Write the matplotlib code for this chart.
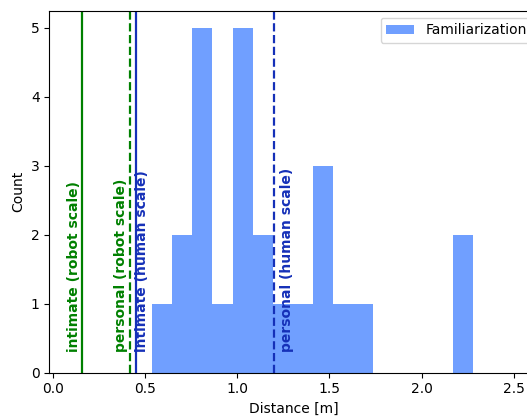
import numpy as np
import matplotlib
matplotlib.use("Agg")
import matplotlib.pyplot as plt

# histogram of distances (bin edges + counts)
bin_lo, bin_hi, n_bins = 0.54, 2.28, 16
counts = [1, 2, 5, 1, 5, 2, 1, 1, 3, 1, 1, 0, 0, 0, 0, 2]

# proxemic zones
zone_names = ["intimate (robot scale)", "personal (robot scale)",
              "intimate (human scale)", "personal (human scale)"]
zone_dist = [0.16, 0.42, 0.45, 1.2]
zone_text_x = [0.117, 0.373, 0.485, 1.268]
zone_color = ["green", "green", "#1530b8", "#1530b8"]
zone_style = ["-", "--", "-", "--"]

edges = np.linspace(bin_lo, bin_hi, n_bins + 1)

fig = plt.figure(figsize=(5.27, 4.17), dpi=100)
ax = fig.add_axes([0.0936, 0.1062, 0.9292, 0.868])

ax.hist(edges[:-1], bins=edges, weights=counts, color="#3377ff", alpha=0.7,
        label="Familiarization")

for name, d, tx, c, ls in zip(zone_names, zone_dist, zone_text_x, zone_color, zone_style):
    ax.axvline(d, color=c, linestyle=ls, lw=1.6)
    ax.text(tx, 0.3, name, rotation=90, ha="center", va="bottom",
            color=c, fontsize=10, fontweight="bold")

ax.set_xlim(-0.018, 2.636)
ax.set_ylim(0, 5.25)
ax.set_xticks([0.0, 0.5, 1.0, 1.5, 2.0, 2.5])
ax.set_xlabel("Distance [m]")
ax.set_ylabel("Count")
ax.legend(loc="upper right")

fig.savefig("out.png", dpi=100)
